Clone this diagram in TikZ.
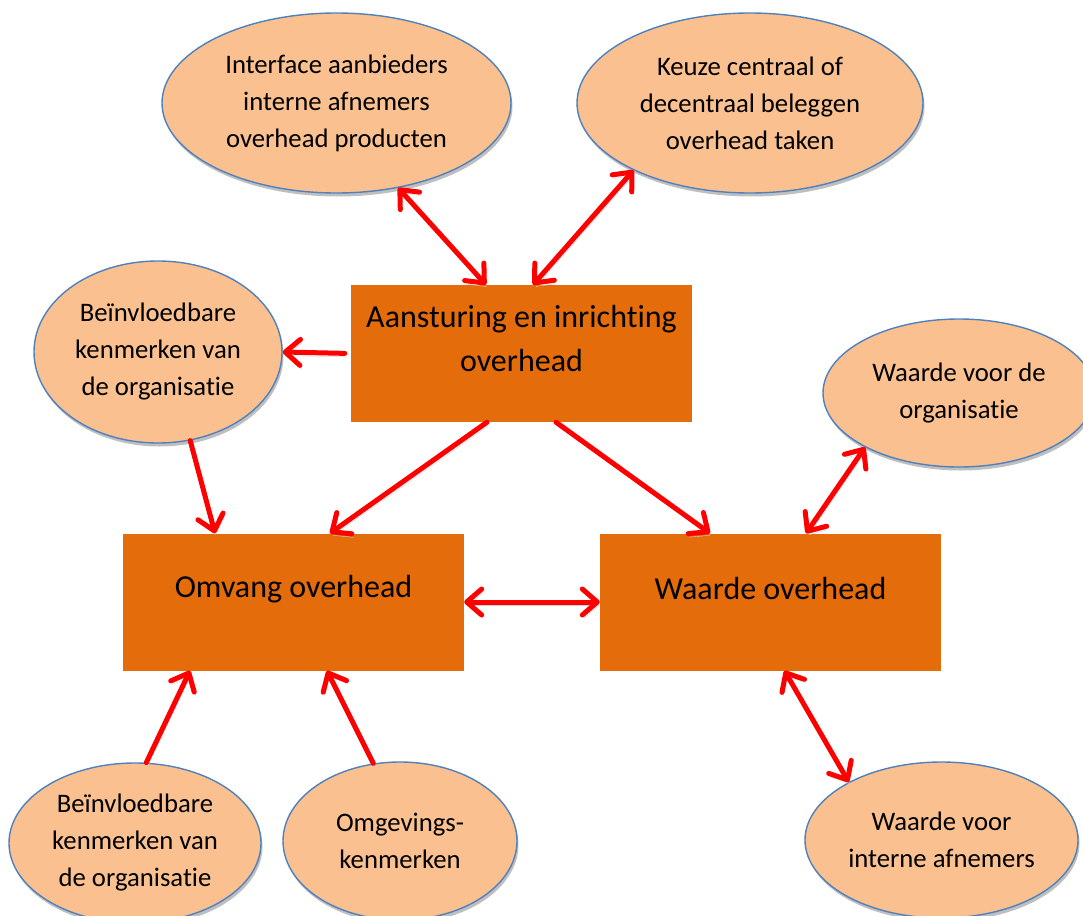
\documentclass[tikz,border=0pt]{standalone}
\usepackage{fontspec}
\setmainfont{Carlito}[Ligatures=NoCommon]
\usetikzlibrary{arrows.meta,shapes.geometric,shadows}
\definecolor{boxor}{HTML}{E46C0A}
\definecolor{ellor}{HTML}{FAC090}
\definecolor{ellbd}{HTML}{4F81BD}
\begin{document}
\begin{tikzpicture}[x=1pt,y=-1pt,
  barb/.tip={Straight Barb[length=15pt,width=26pt,round]},
  ell/.style={ellipse, draw=ellbd, line width=1.4pt, fill=ellor, inner sep=0pt,
    align=center, font=\fontsize{26.7}{37}\selectfont,
    drop shadow={shadow xshift=1.5pt, shadow yshift=-3.5pt, opacity=0.25, fill=black}},
  box/.style={rectangle, fill=boxor, inner sep=0pt, minimum width=341pt, minimum height=137pt},
  boxtext/.style={inner sep=0pt, align=center, font=\fontsize{32}{44}\selectfont},
  arrbase/.style={draw=red, line width=5pt, line cap=round, line join=round,
    preaction={draw=black!18, transform canvas={xshift=1.5pt, yshift=-3.5pt}}},
  arr/.style={arrbase, -barb},
  arrb/.style={arrbase, barb-barb}]
\useasboundingbox (0,0) rectangle (1083,915);
% boxes
\node[box] (A) at (521.5,353.5) {};
\node[box] (O) at (293.5,602) {};
\node[box] (W) at (770.5,602) {};
\node[boxtext] (At) at ([yshift=15pt]A.center) {Aansturing en inrichting\\overhead};
\node[boxtext] (Ot) at ([yshift=13pt]O.center) {Omvang overhead};
\node[boxtext] (Wt) at ([yshift=13pt]W.center) {Waarde overhead};
% ellipses
\node[ell, minimum width=349pt, minimum height=180pt] (E1) at (336.5,103) {Interface aanbieders\\interne afnemers\\overhead producten};
\node[ell, minimum width=346pt, minimum height=180pt] (E2) at (750,103) {Keuze centraal of\\decentraal beleggen\\overhead taken};
\node[ell, minimum width=248pt, minimum height=182pt] (E3) at (158,352) {Beïnvloedbare\\kenmerken van\\de organisatie};
\node[ell, minimum width=272pt, minimum height=148pt] (E4) at (959,393) {Waarde voor de\\organisatie};
\node[ell, minimum width=252pt, minimum height=160pt] (E5) at (135,843) {Beïnvloedbare\\kenmerken van\\de organisatie};
\node[ell, minimum width=234pt, minimum height=158pt] (E6) at (400,841) {Omgevings-\\kenmerken};
\node[ell, minimum width=273pt, minimum height=156pt] (E7) at (941.5,840) {Waarde voor\\interne afnemers};
% connectors
\draw[arrb] (E1.-54) -- ([xshift=-35.5pt]A.north);
\draw[arrb] (E2.-150) -- ([xshift=11.5pt]A.north);
\draw[arr, shorten <=6pt] (A.west) -- (E3.east);
\draw[arr] (E3.-70) -- ([xshift=-78.5pt]O.north);
\draw[arr] ([xshift=-34.5pt]A.south) -- ([xshift=36.5pt]O.north);
\draw[arr] ([xshift=34.5pt]A.south) -- ([xshift=-60.5pt]W.north);
\draw[arrb] (E4.-150) -- ([xshift=35.5pt]W.north);
\draw[arrb] (O.east) -- (W.west);
\draw[arrb] ([xshift=14pt]W.south) -- (E7.148);
\draw[arr] (E5.82) -- ([xshift=-103.5pt]O.south);
\draw[arr] (E6.109) -- ([xshift=33.5pt]O.south);
\end{tikzpicture}
\end{document}
